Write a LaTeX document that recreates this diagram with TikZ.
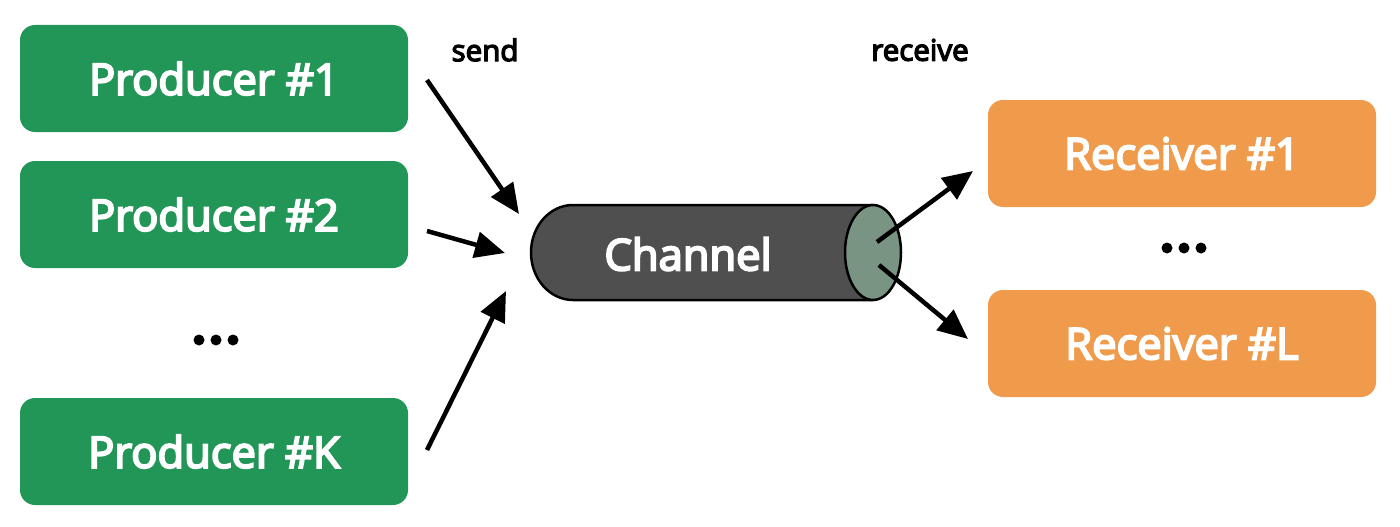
\documentclass[tikz,border=0pt]{standalone}
\usepackage{fontspec}
\setmainfont{Open Sans}
\newcommand\thk[2]{\special{pdf:literal direct 2 Tr #1 w}#2\special{pdf:literal direct 0 Tr}}
\usetikzlibrary{arrows.meta}
\definecolor{pgreen}{HTML}{219657}
\definecolor{rorange}{HTML}{F09B4B}
\definecolor{chgray}{HTML}{4F4F4F}
\definecolor{chend}{HTML}{7A9483}
\tikzset{
  prodbox/.style={draw=none, fill=pgreen, rounded corners=15pt, minimum width=388pt, minimum height=107pt, text=white, font=\fontsize{43.5}{46}\selectfont, inner sep=0pt},
  recvbox/.style={prodbox, fill=rorange},
  lbl/.style={font=\fontsize{29.5}{32}\selectfont, text=black, inner sep=0pt},
  dots/.style={inner sep=0pt},
  arr/.style={line width=4.5pt, -{Triangle[length=30pt,width=26pt]}, shorten >=0pt}
}
\begin{document}
\begin{tikzpicture}[x=1pt,y=-1pt]
\useasboundingbox (0,0) rectangle (1400,527);
% producers
\node[prodbox] (p1) at (214,78.5) {\thk{2}{Producer \#1}};
\node[prodbox] (p2) at (214,214.5) {\thk{2}{Producer \#2}};
\node[prodbox] (pk) at (214,451.5) {\thk{2}{Producer \#K}};
% receivers
\node[recvbox] (r1) at (1182,153.5) {\thk{2}{Receiver \#1}};
\node[recvbox] (rl) at (1182,343.5) {\thk{2}{Receiver \#L}};
% dots
\node[dots] (pdots) at (216,340) {\tikz[x=1pt,y=-1pt]{\fill (0,0) circle (5.5) (17,0) circle (5.5) (34,0) circle (5.5);}};
\node[dots] (rdots) at (1184,248) {\tikz[x=1pt,y=-1pt]{\fill (0,0) circle (5.5) (17,0) circle (5.5) (34,0) circle (5.5);}};
% labels
\node[lbl] (send) at (485,50) {\thk{1.3}{send}};
\node[lbl] (recv) at (920,50) {\thk{1.3}{receive}};
% channel
\fill[chgray] (873,205) -- (573,205) arc[start angle=270, end angle=90, x radius=42, y radius=47.5] -- (873,300) -- cycle;
\draw[line width=2.5pt] (873,205) -- (573,205) arc[start angle=270, end angle=90, x radius=42, y radius=47.5] -- (873,300);
\draw[line width=2.5pt, fill=chend] (873,252.5) ellipse [x radius=28, y radius=47.5];
\node[font=\fontsize{43.5}{46}\selectfont, text=white, inner sep=0pt] (ch) at (688,254) {\thk{2}{Channel}};
% arrow endpoints
\coordinate (a1s) at (427,80);  \coordinate (a1e) at (519,214);
\coordinate (a2s) at (427,231); \coordinate (a2e) at (505,253);
\coordinate (a3s) at (427,450); \coordinate (a3e) at (506,291);
\coordinate (b1s) at (877,242); \coordinate (b1e) at (973,171);
\coordinate (b2s) at (879,265); \coordinate (b2e) at (968,339);
\draw[arr] (a1s) -- (a1e);
\draw[arr] (a2s) -- (a2e);
\draw[arr] (a3s) -- (a3e);
\draw[arr] (b1s) -- (b1e);
\draw[arr] (b2s) -- (b2e);
\end{tikzpicture}
\end{document}
